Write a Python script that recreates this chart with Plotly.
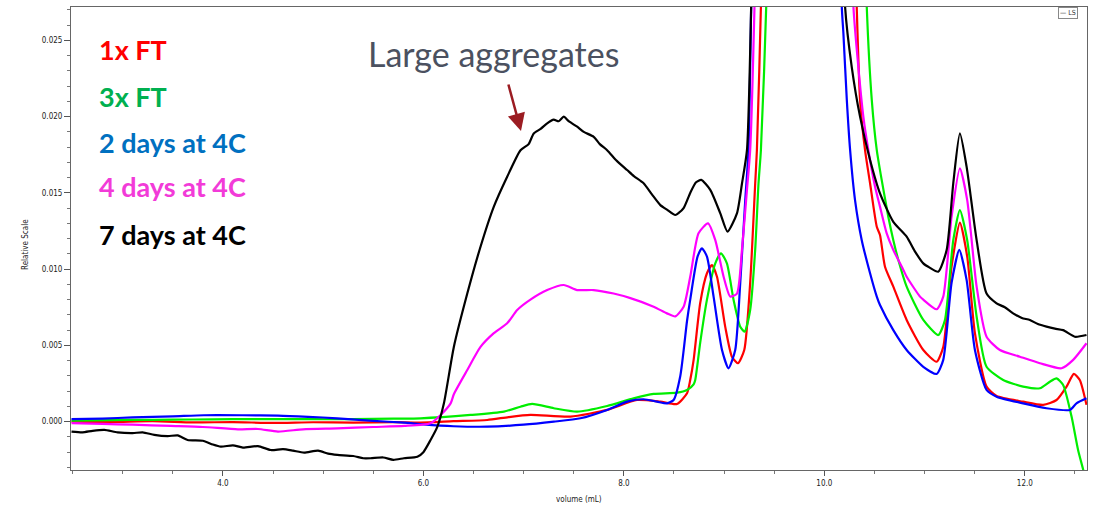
import plotly.graph_objects as go

# ---------------- data (volume in mL, relative scale) ----------------
red_x = [2.49, 2.9, 3.3, 3.7, 4.1, 4.5, 4.9, 5.3, 5.7, 5.973, 6.3, 6.637, 6.85, 7.068, 7.467, 7.833,
         8.131, 8.364, 8.53, 8.63, 8.662, 8.696, 8.762, 8.829, 8.879, 8.929, 9.011, 9.078, 9.138,
         9.201, 9.26, 9.31, 9.327, 9.367, 9.45, 9.85, 10.2, 10.323, 10.356, 10.406, 10.456, 10.523,
         10.555, 10.605, 10.688, 10.821, 10.987, 11.12, 11.186, 11.269, 11.352, 11.425, 11.502,
         11.618, 11.718, 11.983, 12.183, 12.316, 12.416, 12.489, 12.548, 12.615]
red_y = [0.0, -0.00002, 0.00003, -0.00005, -0.00003, -0.00008, -0.00004, -0.00006, -0.00003, -0.00006,
         0.00003, 0.00011, 0.0003, 0.00044, 0.00033, 0.00077, 0.00142, 0.00131, 0.00116, 0.00186,
         0.00273, 0.00405, 0.0078, 0.00973, 0.01027, 0.0095, 0.00623, 0.00426, 0.00383, 0.0047,
         0.0091, 0.0156, 0.0178, 0.0272, 0.06, 0.2, 0.06, 0.0272, 0.0211, 0.0178, 0.01563, 0.01278,
         0.01224, 0.01016, 0.00885, 0.00667, 0.0047, 0.00393, 0.0049, 0.01016, 0.01305, 0.01082,
         0.0058, 0.0023, 0.00168, 0.00131, 0.0011, 0.00142, 0.0023, 0.00313, 0.00273, 0.0011]

green_x = [2.49, 2.9, 3.3, 3.7, 4.1, 4.5, 4.9, 5.3, 5.7, 5.973, 6.471, 6.803, 6.969, 7.085, 7.301,
           7.534, 7.833, 8.097, 8.297, 8.53, 8.63, 8.696, 8.712, 8.762, 8.829, 8.912, 8.969, 9.028,
           9.094, 9.161, 9.204, 9.26, 9.31, 9.343, 9.367, 9.42, 9.5, 9.9, 10.3, 10.423, 10.473,
           10.523, 10.56, 10.638, 10.688, 10.738, 10.821, 10.987, 11.136, 11.203, 11.286, 11.352,
           11.425, 11.519, 11.618, 11.784, 11.983, 12.15, 12.249, 12.316, 12.382, 12.466, 12.531,
           12.588, 12.63]
green_y = [0.00007, 0.0001, 0.00012, 0.00014, 0.00016, 0.00017, 0.00016, 0.00016, 0.0002, 0.00022,
           0.00044, 0.00066, 0.00098, 0.00116, 0.00088, 0.00066, 0.00103, 0.00153, 0.00182, 0.0019,
           0.00208, 0.00245, 0.00273, 0.0052, 0.008, 0.01038, 0.01104, 0.01038, 0.008, 0.00623,
           0.0059, 0.00732, 0.01126, 0.0156, 0.0178, 0.0272, 0.06, 0.2, 0.06, 0.0272, 0.0211, 0.0178,
           0.0163, 0.01344, 0.0119, 0.0106, 0.00885, 0.00667, 0.00568, 0.00667, 0.0119, 0.01388,
           0.0119, 0.00688, 0.0036, 0.00273, 0.0023, 0.00219, 0.00262, 0.00284, 0.0024, 0.00033,
           -0.00186, -0.0033, -0.0045]

blue_x = [2.49, 2.8, 3.1, 3.5, 3.81, 4.2, 4.55, 4.85, 5.14, 5.5, 5.81, 6.0, 6.3, 6.637, 7.0, 7.301,
          7.567, 7.833, 8.032, 8.197, 8.331, 8.43, 8.496, 8.563, 8.63, 8.662, 8.735, 8.779, 8.829,
          8.895, 8.979, 9.044, 9.111, 9.161, 9.211, 9.243, 9.27, 9.35, 9.8, 10.1, 10.174, 10.19,
          10.224, 10.257, 10.306, 10.373, 10.456, 10.523, 10.555, 10.688, 10.821, 10.987, 11.12,
          11.186, 11.269, 11.346, 11.419, 11.502, 11.618, 11.718, 11.983, 12.216, 12.449, 12.515,
          12.615]
blue_y = [0.00016, 0.0002, 0.00028, 0.00035, 0.00042, 0.00042, 0.0004, 0.00032, 0.00022, 0.00005,
          -0.00007, -0.00018, -0.0003, -0.00033, -0.0002, 0.0, 0.00022, 0.00077, 0.00131, 0.00147,
          0.00131, 0.0012, 0.00142, 0.003, 0.0066, 0.008, 0.01082, 0.01137, 0.01082, 0.0082, 0.0047,
          0.0035, 0.0047, 0.0091, 0.01453, 0.0178, 0.0272, 0.06, 0.2, 0.06, 0.0272, 0.02546, 0.0211,
          0.0178, 0.01453, 0.0119, 0.00973, 0.0082, 0.00765, 0.006, 0.0047, 0.0036, 0.00313, 0.00405,
          0.0091, 0.01126, 0.0093, 0.0047, 0.00208, 0.00164, 0.0012, 0.00088, 0.00077, 0.0012,
          0.00153]

magenta_x = [2.49, 2.8, 3.1, 3.48, 3.8, 4.15, 4.35, 4.55, 4.8, 5.14, 5.5, 5.81, 6.072, 6.172, 6.272,
             6.304, 6.438, 6.57, 6.703, 6.836, 6.936, 7.068, 7.235, 7.4, 7.534, 7.699, 7.898, 8.065,
             8.297, 8.43, 8.513, 8.596, 8.662, 8.745, 8.839, 8.912, 8.995, 9.061, 9.128, 9.178,
             9.228, 9.26, 9.303, 9.4, 9.8, 10.15, 10.29, 10.339, 10.389, 10.439, 10.506, 10.555,
             10.622, 10.688, 10.788, 10.821, 10.954, 10.987, 11.12, 11.186, 11.269, 11.352, 11.425,
             11.519, 11.618, 11.751, 11.95, 12.15, 12.366, 12.482, 12.615]
magenta_y = [-0.0001, -0.00015, -0.0002, -0.00028, -0.00035, -0.0005, -0.00048, -0.00065, -0.0005,
             -0.00044, -0.00035, -0.00028, -0.0001, 0.00044, 0.0012, 0.0018, 0.00339, 0.0049, 0.0058,
             0.00645, 0.00732, 0.008, 0.00863, 0.00896, 0.00863, 0.00863, 0.0084, 0.0081, 0.00754,
             0.0071, 0.0069, 0.00754, 0.0095, 0.01235, 0.013, 0.0119, 0.0095, 0.0082, 0.0084, 0.01126,
             0.0152, 0.0178, 0.0272, 0.06, 0.2, 0.06, 0.0272, 0.02327, 0.02, 0.0178, 0.0154, 0.0141,
             0.01235, 0.01126, 0.00995, 0.0095, 0.0082, 0.008, 0.00737, 0.0082, 0.01344, 0.01661,
             0.01453, 0.00885, 0.00557, 0.0047, 0.00426, 0.00383, 0.0035, 0.00405, 0.00514]

black_x = [2.49, 2.6, 2.7, 2.817, 2.95, 3.1, 3.2, 3.316, 3.45, 3.55, 3.648, 3.8, 3.9, 3.98, 4.1, 4.2,
           4.35, 4.478, 4.6, 4.7, 4.81, 4.95, 5.05, 5.142, 5.3, 5.4, 5.474, 5.6, 5.7, 5.806, 5.94,
           6.0, 6.072, 6.139, 6.205, 6.304, 6.438, 6.57, 6.703, 6.836, 6.969, 7.05, 7.101, 7.17,
           7.235, 7.3, 7.35, 7.4, 7.45, 7.534, 7.6, 7.699, 7.76, 7.833, 7.93, 8.032, 8.1, 8.197,
           8.28, 8.364, 8.43, 8.513, 8.55, 8.596, 8.662, 8.72, 8.772, 8.862, 8.962, 9.034, 9.128,
           9.178, 9.228, 9.27, 9.35, 9.75, 10.1, 10.207, 10.273, 10.356, 10.456, 10.555, 10.688,
           10.821, 10.9, 10.987, 11.05, 11.136, 11.22, 11.286, 11.352, 11.419, 11.519, 11.618,
           11.718, 11.8, 11.883, 11.97, 12.05, 12.13, 12.216, 12.3, 12.382, 12.498, 12.615]
black_y = [-0.00065, -0.0007, -0.0006, -0.00054, -0.0007, -0.00075, -0.0007, -0.00087, -0.00095,
           -0.0009, -0.0012, -0.00125, -0.0015, -0.00164, -0.00155, -0.0017, -0.0016, -0.00186,
           -0.0018, -0.0019, -0.00203, -0.0019, -0.0021, -0.00218, -0.00225, -0.0024, -0.0024,
           -0.00235, -0.0025, -0.0024, -0.0023, -0.002, -0.0012, -0.00034, 0.0012, 0.0049, 0.0084,
           0.01147, 0.0141, 0.01606, 0.0178, 0.0182, 0.0189, 0.0192, 0.01956, 0.0198, 0.0197, 0.02,
           0.0197, 0.01934, 0.019, 0.01868, 0.0182, 0.0178, 0.0171, 0.0165, 0.0161, 0.01563, 0.0149,
           0.0142, 0.0139, 0.01355, 0.0137, 0.014, 0.015, 0.0157, 0.01585, 0.0152, 0.01366, 0.01246,
           0.01366, 0.0156, 0.0178, 0.0272, 0.06, 0.2, 0.06, 0.0272, 0.02327, 0.02, 0.01716,
           0.01497, 0.0131, 0.01213, 0.0112, 0.01038, 0.0101, 0.00983, 0.01126, 0.01563, 0.0189,
           0.01672, 0.0119, 0.0084, 0.00776, 0.0075, 0.0071, 0.0068, 0.00667, 0.0064, 0.00623,
           0.0061, 0.006, 0.00557, 0.00568]

series_names = ["1x FT", "3x FT", "2 days at 4C", "4 days at 4C", "7 days at 4C"]
line_colors = ["#FF0000", "#00EE00", "#0000FF", "#FF00FF", "#000000"]
label_colors = ["#FF0000", "#00B050", "#0070C0", "#F23BD8", "#000000"]
series_x = [red_x, green_x, blue_x, magenta_x, black_x]
series_y = [red_y, green_y, blue_y, magenta_y, black_y]

x_ticks = [4.0, 6.0, 8.0, 10.0, 12.0]
y_ticks = [0.0, 0.005, 0.010, 0.015, 0.020, 0.025]

# ---------------- figure ----------------
fig = go.Figure()
for xs, ys, name, col in zip(series_x, series_y, series_names, line_colors):
    fig.add_trace(go.Scatter(x=xs, y=ys, mode="lines", name=name,
                             line=dict(color=col, width=2.2, shape="spline", smoothing=0.6),
                             showlegend=False))

tick_font = dict(family="Liberation Sans Narrow, DejaVu Sans Condensed, Arial Narrow, sans-serif",
                 size=8, color="#222222")

L, R, T, B = 71, 10, 7, 37
W, H = 1097, 507
pw, ph = W - L - R, H - T - B

def px_x(p):
    return (p - L) / pw

def px_y(p):
    return (H - B - p) / ph

fig.update_layout(
    width=W, height=H,
    margin=dict(l=L, r=R, t=T, b=B, autoexpand=False),
    paper_bgcolor="white", plot_bgcolor="white",
    xaxis=dict(range=[2.485, 12.62], tickvals=x_ticks, ticktext=[f"{v:.1f}" for v in x_ticks],
               ticks="outside", ticklen=5, tickcolor="#555555",
               minor=dict(dtick=0.5, tick0=0, ticks="outside", ticklen=3, tickcolor="#777777"),
               showline=True, linecolor="#666666", linewidth=1, mirror=True,
               showgrid=False, zeroline=False, tickfont=tick_font, automargin=False),
    yaxis=dict(range=[-0.00317, 0.02719], tickvals=y_ticks, ticktext=[f"{v:.3f}" for v in y_ticks],
               ticks="outside", ticklen=6, tickcolor="#555555",
               minor=dict(dtick=0.001, tick0=0, ticks="outside", ticklen=3, tickcolor="#777777"),
               showline=True, linecolor="#666666", linewidth=1, mirror=True,
               showgrid=False, zeroline=False, tickfont=tick_font, automargin=False),
)

# axis titles
fig.add_annotation(xref="paper", yref="paper", x=px_x(579), y=px_y(499), xanchor="center",
                   yanchor="middle", text="volume (mL)", showarrow=False, font=tick_font)
fig.add_annotation(xref="paper", yref="paper", x=px_x(25), y=px_y(245), xanchor="center",
                   yanchor="middle", text="Relative Scale", showarrow=False, textangle=-90,
                   font=tick_font)

# coloured series labels (legend-style text)
label_py = [50, 96, 142, 187, 234]
for name, col, p in zip(series_names, label_colors, label_py):
    fig.add_annotation(xref="paper", yref="paper", x=px_x(97), y=px_y(p), xanchor="left",
                       yanchor="middle", text=f"<b>{name}</b>", showarrow=False,
                       font=dict(family="Lato, Open Sans, sans-serif", size=27, color=col))

# "Large aggregates" callout
fig.add_annotation(xref="paper", yref="paper", x=px_x(493), y=px_y(53), xanchor="center",
                   yanchor="middle", text="Large aggregates", showarrow=False,
                   font=dict(family="Lato, Open Sans, sans-serif", size=34, color="#4B5160"))
fig.add_annotation(xref="paper", yref="paper", x=px_x(521), y=px_y(131),
                   ax=-13, ay=-48, text="", showarrow=True, arrowhead=2, arrowsize=1.4,
                   arrowwidth=2.5, arrowcolor="#9B1C22")

# small "LS" box top right
fig.add_annotation(xref="paper", yref="paper", x=px_x(1068), y=px_y(12.5),
                   xanchor="center", yanchor="middle", text="— LS", showarrow=False,
                   font=dict(family="DejaVu Sans Condensed, sans-serif", size=7, color="#333333"),
                   bordercolor="#888888", borderwidth=1, borderpad=1, bgcolor="white")

fig.write_html("out.html", config={"displayModeBar": False},
               post_script="document.body.style.margin='0';document.body.style.padding='0';")
